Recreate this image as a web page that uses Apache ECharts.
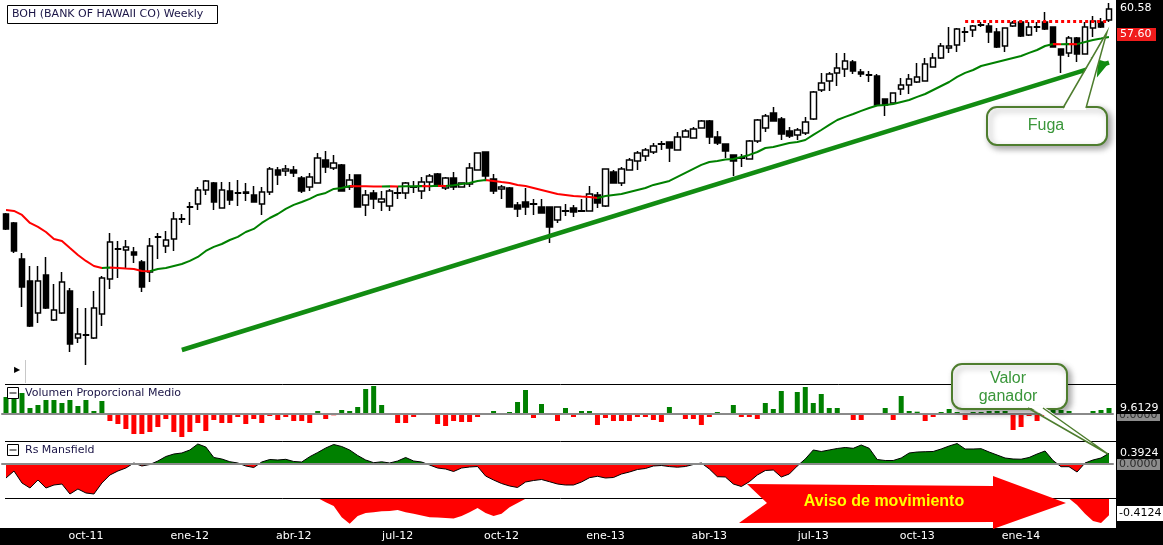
<!DOCTYPE html>
<html><head><meta charset="utf-8">
<script src="https://cdn.jsdelivr.net/npm/echarts@6/dist/echarts.min.js"></script>
<style>html,body{margin:0;padding:0;background:#fff}#c{width:1163px;height:545px}</style>
</head><body><div id="c"></div>
<script>
// ---- DATA (weekly, [open, close, low, high]) ----
const ohlc = [
[45.20,44.08,44.00,45.28],[44.53,42.43,42.28,44.60],[41.83,39.73,38.23,42.28],[40.18,36.80,36.73,41.30],
[37.78,40.18,37.03,41.30],[40.63,38.15,38.08,41.98],[37.25,38.00,37.18,39.95],[37.78,40.10,37.70,40.85],
[39.43,35.45,34.85,39.65],[35.90,36.20,35.53,38.15],[36.10,36.15,33.88,38.15],[35.90,38.15,35.83,39.43],
[37.70,40.40,36.80,40.55],[40.33,43.10,39.58,43.78],[42.55,42.60,40.40,43.18],[42.50,42.73,41.15,43.25],
[42.35,42.13,41.53,42.73],[41.60,39.73,39.35,41.75],[40.85,42.80,40.10,43.40],[43.45,43.50,41.83,43.78],
[42.80,43.25,42.28,43.93],[43.33,44.83,42.43,45.35],[44.80,44.85,44.53,45.20],[45.70,45.75,44.38,46.10],
[45.95,47.00,45.50,47.23],[47.00,47.68,46.63,47.75],[47.53,46.10,45.50,47.60],[45.65,47.00,45.60,47.60],
[46.93,46.25,45.88,47.60],[46.75,46.80,45.80,47.75],[46.85,46.75,46.18,47.53],[46.63,46.10,46.05,47.30],
[45.95,46.85,45.13,47.23],[46.85,48.58,46.63,48.73],[48.50,48.13,47.38,48.73],[48.43,48.58,48.05,48.88],
[48.50,48.28,47.98,48.80],[47.90,46.93,46.78,48.05],[47.23,47.98,46.93,48.28],[47.53,49.40,47.50,49.78],
[49.25,48.73,48.28,49.93],[48.65,49.03,48.50,49.63],[48.88,46.93,46.90,48.95],[47.23,47.75,47.00,48.20],
[48.13,45.73,45.70,48.15],[45.88,46.63,45.05,47.00],[46.78,46.33,45.58,47.00],[46.10,46.33,45.43,46.93],
[45.80,46.93,45.43,47.08],[46.75,46.80,46.33,47.30],[46.78,47.53,46.33,47.60],[47.20,47.25,46.78,47.68],
[46.93,47.60,46.33,47.98],[47.60,48.05,46.93,48.20],[48.20,47.38,47.23,48.28],[47.15,47.90,47.00,47.98],
[47.90,47.23,47.00,48.35],[47.23,47.53,47.20,47.55],[47.45,48.65,47.23,49.03],[48.50,49.78,48.45,49.80],
[49.85,48.05,47.68,49.88],[47.83,46.93,46.70,48.20],[47.08,47.23,46.33,47.38],[47.15,45.73,45.70,47.23],
[45.88,45.58,44.98,46.10],[46.10,45.73,45.13,47.15],[45.93,45.97,45.13,46.33],[45.73,45.28,45.25,46.33],
[45.73,44.23,43.03,45.75],[44.75,45.73,44.53,45.75],[45.40,45.45,45.05,45.95],[45.65,45.35,44.98,45.88],
[45.40,45.45,45.35,46.33],[45.43,46.70,45.40,47.30],[46.63,46.03,45.65,46.85],[45.80,48.58,45.73,48.60],
[48.35,47.53,47.50,48.50],[47.53,48.58,47.30,48.73],[48.50,49.25,48.45,49.40],[49.18,49.78,48.50,49.93],
[49.55,50.00,49.18,50.15],[49.85,50.30,49.70,50.53],[50.43,50.47,50.00,50.68],[50.60,50.15,49.10,50.62],
[50.00,50.98,49.98,51.35],[50.98,51.43,50.95,51.58],[50.90,51.58,50.88,51.73],[51.65,52.18,51.63,52.25],
[52.18,50.98,50.45,52.25],[50.98,50.53,50.38,51.43],[50.45,49.93,49.40,50.47],[49.63,49.18,48.05,49.65],
[49.38,49.42,48.73,49.70],[49.33,50.68,49.30,50.75],[50.68,52.25,50.53,52.33],[51.65,52.55,51.35,52.70],
[52.78,52.18,52.15,53.23],[52.33,51.20,50.75,52.48],[51.43,51.05,50.90,51.73],[51.13,51.50,50.75,51.65],
[51.28,52.10,51.13,52.48],[52.33,54.35,52.25,54.43],[54.50,55.03,54.35,55.78],[55.18,55.70,54.43,55.85],
[55.78,56.15,54.80,57.28],[56.08,56.68,55.48,57.28],[56.60,55.93,55.70,56.75],[55.85,55.70,55.48,56.08],
[55.61,55.64,55.10,55.93],[55.55,53.38,53.35,55.70],[53.83,53.38,52.55,53.85],[53.53,54.28,53.50,54.30],
[54.58,54.88,54.13,55.40],[54.88,55.33,54.20,55.70],[55.10,55.48,55.03,56.53],[55.18,56.45,55.15,56.90],
[56.23,56.90,56.20,57.28],[56.90,57.80,56.83,58.03],[57.65,57.80,57.28,59.23],[57.88,59.08,57.35,59.15],
[58.83,58.87,58.10,59.23],[59.00,59.30,58.48,59.38],[59.36,59.40,59.23,59.60],[59.30,58.85,58.03,59.53],
[58.85,57.73,57.65,59.15],[57.80,59.15,57.35,59.17],[59.30,59.53,59.23,59.68],[59.60,58.55,58.48,59.62],
[58.63,59.23,58.55,59.60],[59.21,59.25,58.85,59.60],[59.60,59.08,59.00,60.35],[59.23,57.73,57.70,59.25],
[57.58,57.13,55.78,57.60],[57.28,58.40,56.98,58.55],[58.40,57.20,56.60,58.48],[57.20,59.23,57.18,59.60],
[59.15,59.68,58.48,60.05],[59.60,59.23,59.15,59.90],[59.75,60.58,59.60,61.03]
];
const ma = [45.50,45.43,45.13,44.53,44.23,43.85,43.33,43.18,42.65,42.13,
41.68,41.30,41.15,41.19,41.15,41.11,41.08,40.93,40.91,41.08,
41.15,41.30,41.45,41.68,41.98,42.43,42.73,42.95,43.25,43.48,
43.85,44.08,44.53,44.90,45.20,45.58,45.88,46.10,46.33,46.63,
46.78,47.08,47.15,47.30,47.29,47.28,47.27,47.26,47.28,47.27,
47.28,47.29,47.30,47.29,47.31,47.30,47.36,47.45,47.53,47.68,
47.75,47.68,47.60,47.53,47.38,47.30,47.15,47.00,46.85,46.70,
46.63,46.55,46.51,46.48,46.40,46.55,46.63,46.70,46.85,47.00,
47.15,47.38,47.53,47.68,47.98,48.28,48.58,48.88,49.10,49.18,
49.29,49.33,49.48,49.63,49.85,50.15,50.23,50.38,50.53,50.60,
50.75,51.13,51.50,51.88,52.25,52.48,52.70,52.93,53.15,53.34,
53.38,53.45,53.60,53.75,53.98,54.20,54.50,54.80,55.10,55.48,
55.78,56.00,56.30,56.45,56.60,56.75,56.90,57.05,57.28,57.50,
57.80,57.95,57.93,57.95,57.94,58.10,58.25,58.36,58.48];
const volume = [27.2,28.8,33.6,9.6,14.4,22.4,22.4,17.6,22.4,12.8,
22.4,4.8,20.8,-11.2,-16.0,-24.0,-32.0,-32.0,-28.8,-20.8,
-8.0,-28.8,-36.8,-28.8,-14.4,-27.2,-9.6,-14.4,-14.4,-4.8,
-16.0,-8.0,-14.4,-3.2,-9.6,-4.8,-11.2,-11.2,-14.4,4.8,
-8.0,-2.1,6.4,4.8,11.2,40.0,44.8,14.4,0.8,-14.4,
-14.4,-4.8,0,0,-16.0,-19.2,-11.2,-12.8,-12.8,-4.8,
0,4.8,0,3.2,19.2,38.4,-6.4,16.0,0,-11.2,
9.6,-4.8,4.8,4.8,-17.6,-6.4,-11.2,-11.2,-11.2,-4.8,
-4.8,-9.6,-12.8,11.2,0,-8.0,-8.0,-17.6,-4.8,3.2,
1.6,14.4,-4.8,-4.8,-8.0,17.6,8.0,36.8,0,35.2,
43.2,17.6,32.0,9.6,9.6,1.6,-9.6,-9.6,-1.6,-1.6,
9.6,-9.6,28.8,4.8,3.7,-11.2,-4.8,3.2,8.0,3.2,
-9.6,3.2,3.2,4.8,4.8,4.8,-25.6,-20.8,-3.2,-11.2,
-3.2,6.4,6.4,4.8,0,1.6,4.8,6.4,9.6129];
const rs = [-0.514,-0.257,-0.697,-0.881,-0.587,-0.881,-0.771,-0.734,-1.101,-0.918,
-1.064,-1.101,-0.697,-0.404,-0.257,-0.147,0.037,-0.073,-0.018,0.110,
0.275,0.367,0.404,0.514,0.734,0.624,0.239,0.184,0.084,0.037,
-0.073,-0.128,0.073,0.165,0.147,0.172,0.092,0.073,0.268,0.422,
0.587,0.716,0.642,0.514,0.312,0.147,0.048,0.081,0.037,0.110,
0.239,0.110,0.073,-0.037,-0.147,-0.184,-0.275,-0.147,-0.110,-0.092,
-0.440,-0.587,-0.716,-0.807,-0.862,-0.661,-0.606,-0.569,-0.650,-0.734,
-0.771,-0.771,-0.661,-0.503,-0.451,-0.514,-0.495,-0.367,-0.294,-0.202,
-0.165,-0.073,-0.055,-0.095,-0.117,-0.092,-0.018,0.037,-0.184,-0.466,
-0.477,-0.734,-0.826,-0.650,-0.404,-0.239,-0.220,-0.477,-0.367,-0.073,
0.184,0.514,0.459,0.514,0.569,0.606,0.576,0.697,0.576,0.165,
0.128,0.128,0.220,0.404,0.440,0.451,0.459,0.551,0.661,0.752,
0.551,0.551,0.562,0.440,0.330,0.220,0.184,0.176,0.239,0.367,
0.477,0.128,-0.099,-0.099,-0.294,0.037,0.147,0.220,0.3924];
// lower sub-panel (two runs)
const lowerAStart = 39;
const lowerA = [0,-0.10,-0.19,-0.46,-0.62,-0.43,-0.36,-0.34,-0.32,-0.31,-0.29,-0.34,-0.38,-0.42,
-0.46,-0.47,-0.48,-0.49,-0.43,-0.34,-0.24,-0.36,-0.43,-0.38,-0.22,-0.12,-0.02,0];
const lowerBStart = 132;
const lowerB = [0,-0.01,-0.17,-0.38,-0.55,-0.60,-0.4124];
const firstWeek = [2011, 6, 29];
const monthNames = ['ene','feb','mar','abr','may','jun','jul','ago','sep','oct','nov','dic'];
const trend = {from: 22, fromPrice: 35.0, to: 138, toPrice: 56.55};
const resistance = {from: 120, to: 138, price: 59.64};
const axisTexts = {price: '60.58', ma: '57.60', vol: '9.6129', rsLast: '0.3924', zero: '0.0000', lower: '-0.4124'};

// ---- build ----
const cats = [];
const t0 = Date.UTC(firstWeek[0], firstWeek[1], firstWeek[2]);
for (let i = 0; i < ohlc.length; i++) cats.push(new Date(t0 + i * 7 * 864e5).toISOString().slice(0, 10));
const lower = cats.map(() => null);
lowerA.forEach((v, k) => lower[lowerAStart + k] = v);
lowerB.forEach((v, k) => lower[lowerBStart + k] = v);

const RED = '#ff0000', GREEN = '#008000';
// MA colour by slope
const pieces = [];
let cur = ma[1] >= ma[0] ? GREEN : RED, s = 0;
for (let i = 1; i < ma.length; i++) {
  const c = ma[i] > ma[i - 1] ? GREEN : (ma[i] < ma[i - 1] ? RED : cur);
  if (c !== cur) { pieces.push({ s, e: i - 1, color: cur }); s = i - 1; cur = c; }
}
pieces.push({ s, e: ma.length - 1, color: cur });
const maPieces = pieces.map((p, k) => k === 0 ? { gte: p.s, lte: p.e, color: p.color } : { gt: p.s, lte: p.e, color: p.color });

const FONT = '"DejaVu Sans", Verdana, sans-serif';
const ARIAL = '"Liberation Sans", Arial, sans-serif';
function isQuarterStart(idx) {
  const d = new Date(cats[idx] + 'T00:00:00Z');
  return [0, 3, 6, 9].includes(d.getUTCMonth()) && d.getUTCDate() <= 7;
}
function fmt(v) {
  const d = new Date(v + 'T00:00:00Z');
  return monthNames[d.getUTCMonth()] + '-' + String(d.getUTCFullYear()).slice(2);
}
const L = 2, W = 1111;
const grids = [
  { left: L, top: 0, width: W, height: 384 },
  { left: L, top: 384, width: W, height: 57 },
  { left: L, top: 441, width: W, height: 57 },
  { left: L, top: 498, width: W, height: 30 }
];
const xAxes = grids.map((g, k) => ({
  gridIndex: k, type: 'category', data: cats, boundaryGap: true,
  show: true, z: 5,
  axisLine: (k === 1 || k === 2) ? { show: true, onZero: true, lineStyle: { color: '#8a8a8a', width: 2 } } : { show: false, onZero: false },
  axisTick: { show: false }, splitLine: { show: false },
  axisLabel: k === 3 ? { show: true, color: '#fff', fontSize: 11, fontFamily: FONT, margin: 3, interval: (i) => isQuarterStart(i), formatter: fmt } : { show: false }
}));
const yAxes = [
  { gridIndex: 0, min: 32.45, max: 61.25, show: false },
  { gridIndex: 1, min: -43.2, max: 48, show: false },
  { gridIndex: 2, min: -1.2478, max: 0.8441, show: false },
  { gridIndex: 3, min: -0.72, max: 0, show: false }
];
const CB = '#4e7d2e', CT = '#3a963a';
const shadow = { shadowBlur: 6, shadowOffsetX: 3, shadowOffsetY: 3, shadowColor: 'rgba(0,0,0,0.35)' };
function txt(x, y, t, fill, font, align, z) {
  return { type: 'text', x, y, z: z || 60, silent: true, style: { text: t, fill, font, align: align || 'left', verticalAlign: 'middle' } };
}
const graphic = [
  { type: 'rect', z: -5, silent: true, shape: { x: 1116, y: 0, width: 47, height: 545 }, style: { fill: '#000' } },
  { type: 'rect', z: -5, silent: true, shape: { x: 0, y: 528, width: 1163, height: 17 }, style: { fill: '#000' } },
  { type: 'line', z: 6, silent: true, shape: { x1: 5, y1: 384.5, x2: 1116, y2: 384.5 }, style: { stroke: '#000', lineWidth: 1 } },
  { type: 'line', z: 6, silent: true, shape: { x1: 5, y1: 441.5, x2: 1116, y2: 441.5 }, style: { stroke: '#000', lineWidth: 1 } },
  { type: 'line', z: 6, silent: true, shape: { x1: 5, y1: 498.5, x2: 1116, y2: 498.5 }, style: { stroke: '#000', lineWidth: 1 } },
  // title
  { type: 'rect', z: 10, silent: true, shape: { x: 7.5, y: 5.5, width: 210, height: 18 }, style: { fill: '#fff', stroke: '#000', lineWidth: 1 } },
  txt(12, 14.5, 'BOH (BANK OF HAWAII CO) Weekly', '#1a1446', '11px ' + FONT, 'left', 11),
  // panel titles
  { type: 'rect', z: 10, silent: true, shape: { x: 7.5, y: 387.5, width: 11, height: 11 }, style: { fill: '#fff', stroke: '#000', lineWidth: 1 } },
  { type: 'line', z: 11, silent: true, shape: { x1: 9.5, y1: 393, x2: 16.5, y2: 393 }, style: { stroke: '#000', lineWidth: 1 } },
  txt(25, 393.5, 'Volumen Proporcional Medio', '#1a1446', '11px ' + FONT, 'left', 11),
  { type: 'rect', z: 10, silent: true, shape: { x: 7.5, y: 444.5, width: 11, height: 11 }, style: { fill: '#fff', stroke: '#000', lineWidth: 1 } },
  { type: 'line', z: 11, silent: true, shape: { x1: 9.5, y1: 450, x2: 16.5, y2: 450 }, style: { stroke: '#000', lineWidth: 1 } },
  txt(25, 450.5, 'Rs Mansfield', '#1a1446', '11px ' + FONT, 'left', 11),
  // small marker
  txt(14, 370, '\u25B6', '#000', '8px ' + FONT, 'left', 11),
  { type: 'line', z: 6, silent: true, shape: { x1: 25.5, y1: 360, x2: 25.5, y2: 383 }, style: { stroke: '#c8c8c8', lineWidth: 1 } },
  // right labels
  txt(1120, 8.5, axisTexts.price, '#fff', '11px ' + FONT),
  { type: 'rect', z: 59, silent: true, shape: { x: 1117, y: 28, width: 39, height: 13 }, style: { fill: '#f01c1c' } },
  txt(1120, 34.5, axisTexts.ma, '#fff', '11px ' + FONT),
  { type: 'rect', z: 57, silent: true, shape: { x: 1117, y: 409, width: 43, height: 12 }, style: { fill: '#8c8c8c' } },
  txt(1119, 415.5, axisTexts.zero, '#2a2a2a', '11px ' + FONT, 'left', 58),
  { type: 'rect', z: 59, silent: true, shape: { x: 1116, y: 400, width: 47, height: 14 }, style: { fill: '#000' } },
  txt(1120, 408, axisTexts.vol, '#fff', '11px ' + FONT),
  txt(1120, 453.5, axisTexts.rsLast, '#fff', '11px ' + FONT),
  { type: 'rect', z: 59, silent: true, shape: { x: 1117, y: 459, width: 43, height: 11 }, style: { fill: '#8c8c8c' } },
  txt(1119, 464.5, axisTexts.zero, '#2a2a2a', '11px ' + FONT),
  { type: 'rect', z: 59, silent: true, shape: { x: 1117, y: 506, width: 46, height: 15 }, style: { fill: '#fff' } },
  txt(1119, 513.5, axisTexts.lower, '#000', '11px ' + FONT),
  // red arrow
  { type: 'polygon', z: 40, silent: true, shape: { points: [[747, 484], [993, 486], [993, 476], [1066, 503], [993, 529], [993, 522], [739, 523], [767, 503]] }, style: { fill: '#ff0000' } },
  txt(884, 502, 'Aviso de movimiento', '#ffff00', 'bold 16px ' + ARIAL, 'center', 41),
  // Fuga callout
  { type: 'rect', z: 42, silent: true, shape: { x: 987, y: 107, width: 120, height: 38, r: 10 }, style: Object.assign({ fill: '#fff', stroke: CB, lineWidth: 2 }, shadow) },
  { type: 'polygon', z: 43, silent: true, shape: { points: [[1063, 110], [1107, 32], [1086, 110]] }, style: { fill: '#fff' } },
  { type: 'polyline', z: 44, silent: true, shape: { points: [[1063, 108], [1107, 32], [1086, 108]] }, style: { stroke: CB, lineWidth: 1.5, fill: null } },
  txt(1046, 126, 'Fuga', CT, '16px ' + ARIAL, 'center', 45),
  // Valor ganador callout
  { type: 'rect', z: 42, silent: true, shape: { x: 952, y: 364, width: 115, height: 45, r: 10 }, style: Object.assign({ fill: '#fff', stroke: CB, lineWidth: 2 }, shadow) },
  { type: 'polygon', z: 43, silent: true, shape: { points: [[1028, 406], [1108, 454], [1043, 406]] }, style: { fill: '#fff' } },
  { type: 'polyline', z: 44, silent: true, shape: { points: [[1028, 408], [1108, 454], [1043, 408]] }, style: { stroke: CB, lineWidth: 1.5, fill: null } },
  txt(1008, 378.5, 'Valor', CT, '16px ' + ARIAL, 'center', 45),
  txt(1008, 396.5, 'ganador', CT, '16px ' + ARIAL, 'center', 45)
];

const option = {
  animation: false,
  backgroundColor: '#fff',
  grid: grids,
  xAxis: xAxes,
  yAxis: yAxes,
  visualMap: [
    { type: 'piecewise', show: false, dimension: 0, seriesIndex: 1, pieces: maPieces },
    { type: 'piecewise', show: false, dimension: 1, seriesIndex: 3, pieces: [{ gte: -5, lt: 0, color: RED }, { gte: 0, lte: 5, color: GREEN }] }
  ],
  graphic: graphic,
  series: [
    {
      type: 'candlestick', xAxisIndex: 0, yAxisIndex: 0, data: ohlc, barWidth: 6,
      itemStyle: { color: '#fff', color0: '#000', borderColor: '#000', borderColor0: '#000', borderWidth: 1.5 },
      markLine: {
        silent: true, animation: false, label: { show: false }, symbol: ['none', 'none'],
        data: [
          [{ coord: [cats[trend.from], trend.fromPrice], symbol: 'none', lineStyle: { color: '#128c12', width: 4.5, type: 'solid' } },
           { coord: [cats[trend.to], trend.toPrice], symbol: 'arrow', symbolSize: 16 }],
          [{ coord: [cats[resistance.from], resistance.price], symbol: 'none', lineStyle: { color: '#ff0000', width: 3, type: [3, 3] } },
           { coord: [cats[resistance.to], resistance.price], symbol: 'none' }]
        ]
      }
    },
    { type: 'line', xAxisIndex: 0, yAxisIndex: 0, data: ma, symbol: 'none', lineStyle: { width: 2 }, z: 3 },
    {
      type: 'bar', xAxisIndex: 1, yAxisIndex: 1, data: volume, barWidth: 5,
      itemStyle: { color: (p) => p.value >= 0 ? GREEN : RED }
    },
    { type: 'line', xAxisIndex: 2, yAxisIndex: 2, data: rs, symbol: 'none', lineStyle: { width: 0 }, areaStyle: { opacity: 1 } },
    { type: 'line', xAxisIndex: 2, yAxisIndex: 2, data: rs, symbol: 'none', lineStyle: { color: '#000', width: 1 }, itemStyle: { color: '#000' } },
    { type: 'line', xAxisIndex: 3, yAxisIndex: 3, data: lower, symbol: 'none', connectNulls: false, lineStyle: { width: 0 }, itemStyle: { color: RED }, areaStyle: { color: RED, opacity: 1 } }
  ]
};
const chart = echarts.init(document.getElementById('c'), null, { renderer: 'canvas' });
chart.setOption(option);
</script></body></html>
